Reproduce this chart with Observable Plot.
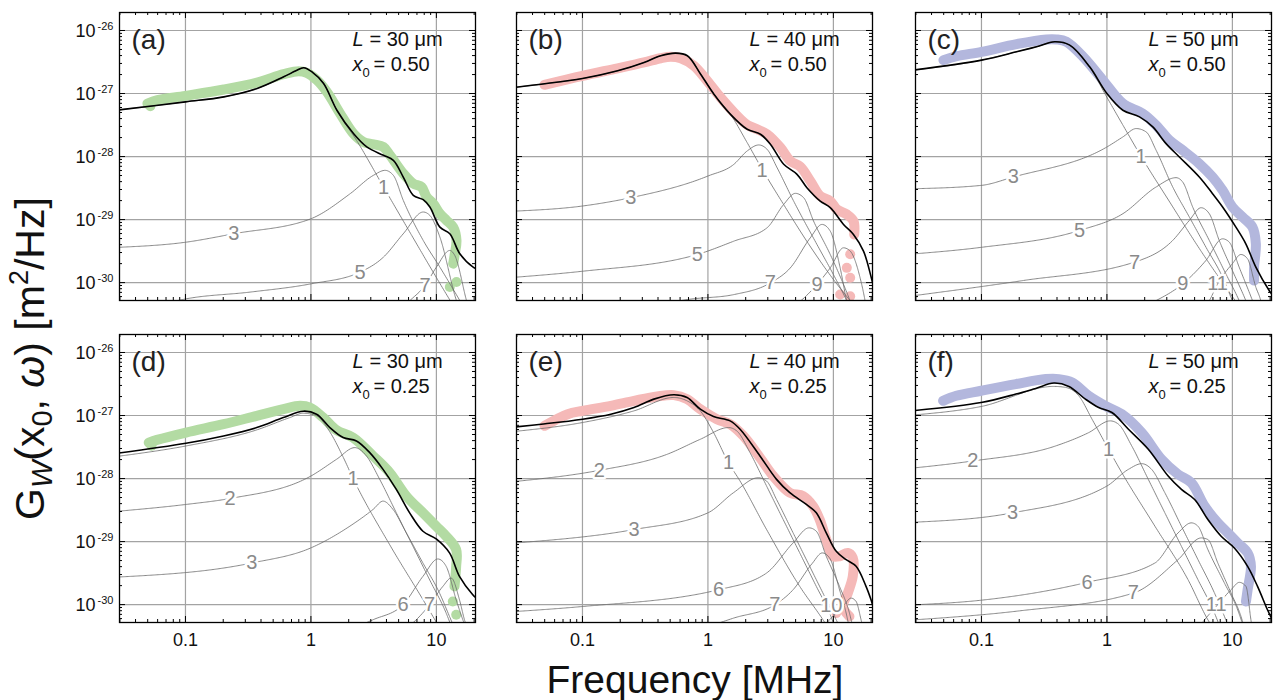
<!DOCTYPE html>
<html><head><meta charset="utf-8">
<script src="https://cdn.jsdelivr.net/npm/d3@7"></script>
<script src="https://cdn.jsdelivr.net/npm/@observablehq/plot@0.6"></script>
<style>
body{margin:0;background:#fff;font-family:"Liberation Sans",Arial,sans-serif;}
#wrap{position:relative;width:1273px;height:700px;overflow:hidden;background:#fff;}
#wrap svg{position:absolute;}
</style></head><body><div id="wrap"></div>
<script>
// ---- Axis ticks and tick labels ----
const xTicks = [0.1, 1, 10];
const xTickLabels = ["0.1", "1", "10"];
const yTicks = [1e-26, 1e-27, 1e-28, 1e-29, 1e-30];
const yTickExp = ["-26", "-27", "-28", "-29", "-30"];
const xDomain = [0.0298, 20.5];
const yDomain = [5.2e-31, 1.93e-26];

// ---- Series values: [log10(frequency / MHz), log10(G_W / (m^2/Hz))] ----
// Panel (a) L = 30 um, x0 = 0.50
const a_fit = [[-1.53,-27.26],[-1.0,-27.132],[-0.694,-27.053],[-0.429,-26.92],[-0.217,-26.735],[-0.12,-26.64],[-0.058,-26.59],[0.008,-26.656],[0.101,-26.841],[0.207,-27.265],[0.339,-27.636],[0.445,-27.848],[0.578,-27.98],[0.657,-28.06],[0.736,-28.325],[0.816,-28.616],[0.895,-28.685],[0.948,-28.80],[1.028,-29.12],[1.107,-29.225],[1.187,-29.543],[1.293,-29.755],[1.32,-29.78]];
const a_data = [[-1.303,-27.159],[-1.224,-27.106],[-1.0,-27.037],[-0.694,-26.936],[-0.429,-26.825],[-0.217,-26.693],[-0.098,-26.645],[-0.032,-26.672],[0.048,-26.788],[0.127,-26.974],[0.233,-27.318],[0.339,-27.636],[0.4185,-27.768],[0.498,-27.805],[0.5775,-27.848],[0.6305,-27.98],[0.736,-28.27],[0.816,-28.43],[0.882,-28.483],[0.922,-28.642],[0.975,-28.748],[1.028,-28.907],[1.081,-29.013],[1.134,-29.12],[1.16,-29.33],[1.147,-29.543],[1.134,-29.70]];
const a_dots = [[1.16,-29.99],[1.107,-30.07],[-1.28,-27.2]];
const a_mode1 = [[-1.53,-27.26],[-1.0,-27.132],[-0.694,-27.053],[-0.429,-26.92],[-0.217,-26.735],[-0.12,-26.64],[-0.058,-26.59],[0.008,-26.656],[0.101,-26.841],[0.207,-27.265],[0.366,-27.75],[0.578,-28.48],[0.80,-29.24],[1.0,-29.92],[1.16,-30.45]];
const a_mode3 = [[-1.53,-29.44],[-1.0,-29.36],[-0.615,-29.225],[0,-28.987],[0.313,-28.589],[0.498,-28.298],[0.591,-28.219],[0.657,-28.298],[0.736,-28.695],[0.895,-29.331],[1.028,-29.755],[1.187,-30.285],[1.25,-30.5]];
const a_mode5 = [[-1.2,-30.35],[-1.0,-30.26],[-0.482,-30.15],[0,-30.02],[0.392,-29.834],[0.578,-29.596],[0.736,-29.225],[0.895,-28.88],[0.948,-28.934],[1.028,-29.278],[1.16,-30.285],[1.2,-30.5]];
const a_mode7 = [[0.70,-30.45],[0.789,-30.285],[0.909,-30.046],[1.0,-29.755],[1.107,-29.49],[1.147,-29.57],[1.24,-30.285],[1.27,-30.5]];
const a_labels = [["1",0.578,-28.5],["3",-0.615,-29.225],["5",0.392,-29.834],["7",0.909,-30.046]];

// Panel (b) L = 40 um, x0 = 0.50
const b_fit = [[-1.53,-26.90],[-1.33,-26.852],[-1.0,-26.762],[-0.72,-26.64],[-0.509,-26.507],[-0.376,-26.40],[-0.257,-26.359],[-0.164,-26.40],[-0.058,-26.693],[0.048,-27.01],[0.18,-27.33],[0.313,-27.567],[0.4185,-27.646],[0.498,-27.805],[0.604,-28.123],[0.71,-28.282],[0.789,-28.494],[0.895,-28.706],[0.975,-28.81],[1.081,-29.077],[1.16,-29.236],[1.24,-29.50],[1.306,-29.95],[1.332,-30.14]];
const b_data = [[-1.303,-26.862],[-1.0,-26.719],[-0.72,-26.60],[-0.509,-26.507],[-0.376,-26.44],[-0.297,-26.417],[-0.217,-26.44],[-0.111,-26.56],[-0.005,-26.80],[0.101,-27.064],[0.207,-27.30],[0.313,-27.498],[0.392,-27.567],[0.4715,-27.646],[0.5775,-27.858],[0.657,-28.07],[0.736,-28.16],[0.816,-28.388],[0.895,-28.627],[0.975,-28.706],[1.028,-28.838],[1.107,-28.918],[1.16,-29.024],[1.166,-29.236]];
const b_dots = [[1.134,-29.55],[1.107,-29.766],[1.134,-29.924],[1.054,-30.19],[1.134,-30.216]];
const b_mode1 = [[-1.53,-26.90],[-1.33,-26.852],[-1.0,-26.762],[-0.72,-26.64],[-0.509,-26.507],[-0.376,-26.40],[-0.257,-26.359],[-0.164,-26.40],[-0.058,-26.693],[0.048,-27.01],[0.18,-27.33],[0.313,-27.78],[0.432,-28.2],[0.6,-28.75],[0.8,-29.38],[1.0,-29.95],[1.16,-30.35]];
const b_mode3 = [[-1.53,-28.865],[-1.0,-28.785],[-0.615,-28.653],[0,-28.309],[0.207,-28.123],[0.313,-27.911],[0.405,-27.816],[0.4715,-27.885],[0.551,-28.176],[0.683,-28.706],[0.869,-29.395],[1.0,-29.872],[1.107,-30.295],[1.15,-30.5]];
const b_mode5 = [[-1.53,-29.914],[-1.0,-29.82],[-0.085,-29.554],[0.207,-29.342],[0.4715,-29.13],[0.604,-28.759],[0.697,-28.584],[0.763,-28.653],[0.842,-29.024],[0.975,-29.554],[1.081,-30.03],[1.134,-30.295],[1.17,-30.5]];
const b_mode7 = [[-0.5,-30.4],[-0.164,-30.269],[0.207,-30.19],[0.498,-30.004],[0.657,-29.766],[0.816,-29.289],[0.909,-29.077],[0.975,-29.183],[1.054,-29.766],[1.107,-30.295],[1.14,-30.5]];
const b_mode9 = [[0.62,-30.45],[0.736,-30.295],[0.869,-30.03],[0.975,-29.766],[1.081,-29.448],[1.134,-29.50],[1.213,-29.924],[1.253,-30.295],[1.27,-30.5]];
const b_labels = [["1",0.432,-28.22],["3",-0.615,-28.653],["5",-0.085,-29.554],["7",0.498,-30.004],["9",0.869,-30.03]];

// Panel (c) L = 50 um, x0 = 0.50
const c_fit = [[-1.53,-26.625],[-0.999,-26.47],[-0.7205,-26.338],[-0.5616,-26.258],[-0.416,-26.179],[-0.2967,-26.232],[-0.1377,-26.576],[0,-27.0],[0.127,-27.265],[0.2596,-27.371],[0.3656,-27.53],[0.4715,-27.795],[0.5775,-28.007],[0.7364,-28.325],[0.842,-28.589],[0.922,-28.80],[1.028,-29.12],[1.107,-29.384],[1.187,-29.755],[1.293,-30.126],[1.32,-30.2]];
const c_data = [[-1.303,-26.47],[-1.197,-26.407],[-0.999,-26.338],[-0.7205,-26.216],[-0.482,-26.142],[-0.4026,-26.142],[-0.323,-26.179],[-0.19,-26.417],[-0.032,-26.788],[0.127,-27.159],[0.286,-27.318],[0.392,-27.503],[0.498,-27.742],[0.604,-27.90],[0.7364,-28.113],[0.842,-28.325],[0.922,-28.536],[1.0,-28.80],[1.081,-28.96],[1.16,-29.12],[1.187,-29.384],[1.173,-29.755],[1.173,-29.967]];
const c_dots = [];
const c_mode1 = [[-1.53,-26.625],[-0.999,-26.47],[-0.7205,-26.338],[-0.5616,-26.258],[-0.416,-26.179],[-0.2967,-26.232],[-0.1377,-26.58],[0,-27.06],[0.127,-27.5],[0.273,-28.0],[0.5,-28.72],[0.75,-29.5],[1.028,-30.3],[1.1,-30.5]];
const c_mode3 = [[-1.53,-28.51],[-0.999,-28.457],[-0.747,-28.325],[0,-27.848],[0.127,-27.689],[0.2331,-27.556],[0.3126,-27.609],[0.392,-27.90],[0.5245,-28.483],[0.657,-28.96],[0.789,-29.437],[0.922,-29.914],[1.0,-30.285],[1.05,-30.5]];
const c_mode5 = [[-1.53,-29.543],[-0.999,-29.44],[-0.2172,-29.172],[0.127,-28.907],[0.392,-28.483],[0.551,-28.335],[0.604,-28.404],[0.6834,-28.80],[0.816,-29.331],[0.948,-29.861],[1.054,-30.285],[1.1,-30.5]];
const c_mode7 = [[-1.53,-30.205],[-0.6675,-29.967],[0.22,-29.675],[0.5245,-29.331],[0.657,-29.013],[0.75,-28.812],[0.816,-28.907],[0.895,-29.331],[1.0,-29.808],[1.107,-30.285],[1.15,-30.5]];
const c_mode9 = [[0.2,-30.45],[0.392,-30.285],[0.604,-30.02],[0.789,-29.649],[0.922,-29.305],[0.975,-29.358],[1.054,-29.755],[1.16,-30.285],[1.2,-30.5]];
const c_mode11 = [[0.7,-30.5],[0.816,-30.285],[0.882,-30.02],[1.0,-29.70],[1.0675,-29.554],[1.12,-29.62],[1.187,-30.073],[1.226,-30.285],[1.25,-30.5]];
const c_labels = [["1",0.273,-28.0],["3",-0.747,-28.325],["5",-0.2172,-29.172],["7",0.22,-29.675],["9",0.604,-30.02],["11",0.882,-30.02]];

// Panel (d) L = 30 um, x0 = 0.25
const d_fit = [[-1.53,-27.595],[-0.996,-27.44],[-0.6967,-27.324],[-0.4318,-27.191],[-0.22,-27.032],[-0.061,-26.931],[0.045,-26.979],[0.151,-27.191],[0.257,-27.35],[0.3629,-27.403],[0.4689,-27.589],[0.5748,-27.854],[0.6808,-28.172],[0.7868,-28.544],[0.8927,-28.836],[0.9987,-28.958],[1.1046,-29.18],[1.184,-29.552],[1.29,-29.844],[1.32,-29.9]];
const d_data = [[-1.2927,-27.43],[-1.2265,-27.387],[-0.996,-27.27],[-0.6967,-27.138],[-0.4318,-27.005],[-0.22,-26.90],[-0.0874,-26.846],[-0.008,-26.873],[0.098,-27.032],[0.204,-27.233],[0.3364,-27.35],[0.4954,-27.642],[0.6278,-27.907],[0.7603,-28.279],[0.8927,-28.544],[0.9987,-28.756],[1.078,-28.915],[1.1576,-29.127],[1.1576,-29.393],[1.1444,-29.711]];
const d_dots = [[1.131,-29.95],[1.158,-30.162],[-1.27,-27.48]];
const d_mode1 = [[-1.53,-27.645],[-0.996,-27.483],[-0.4318,-27.228],[-0.1669,-27.032],[-0.061,-26.963],[0.045,-27.005],[0.151,-27.26],[0.257,-27.66],[0.3364,-28.0],[0.6278,-29.05],[0.8927,-29.92],[1.05,-30.45]];
const d_mode2 = [[-1.53,-28.517],[-0.996,-28.411],[-0.6437,-28.316],[0,-27.96],[0.204,-27.695],[0.3497,-27.509],[0.4424,-27.642],[0.5483,-28.013],[0.6808,-28.544],[0.8132,-29.074],[0.9457,-29.605],[1.078,-30.135],[1.13,-30.4]];
const d_mode3 = [[-1.53,-29.562],[-0.4715,-29.34],[0,-29.10],[0.31,-28.756],[0.4954,-28.49],[0.5748,-28.358],[0.6543,-28.49],[0.7603,-28.862],[0.8927,-29.34],[1.025,-29.817],[1.1046,-30.188],[1.15,-30.4]];
const d_mode6 = [[0.3,-30.4],[0.4954,-30.24],[0.7338,-30.003],[0.8927,-29.552],[1.012,-29.276],[1.078,-29.393],[1.1576,-29.923],[1.2106,-30.24],[1.24,-30.4]];
const d_mode7 = [[0.7,-30.45],[0.8397,-30.24],[0.9457,-30.003],[1.0517,-29.711],[1.1179,-29.578],[1.184,-29.923],[1.2238,-30.24],[1.25,-30.4]];
const d_labels = [["1",0.3364,-28.0],["2",-0.6437,-28.316],["3",-0.4715,-29.34],["6",0.7338,-30.003],["7",0.9457,-30.003]];

// Panel (e) L = 40 um, x0 = 0.25
const e_fit = [[-1.53,-27.18],[-1.329,-27.138],[-0.9987,-27.058],[-0.7741,-26.979],[-0.5892,-26.873],[-0.4306,-26.74],[-0.2721,-26.671],[-0.1664,-26.714],[-0.0608,-26.90],[0.0449,-27.016],[0.177,-27.085],[0.2563,-27.218],[0.4148,-27.642],[0.5469,-28.013],[0.6526,-28.225],[0.7847,-28.411],[0.8639,-28.544],[0.9432,-28.862],[1.0225,-29.154],[1.1017,-29.287],[1.181,-29.393],[1.2602,-29.711],[1.2999,-29.923],[1.32,-30.05]];
const e_data = [[-1.3025,-27.164],[-1.1176,-26.979],[-0.9987,-26.926],[-0.7741,-26.846],[-0.5892,-26.767],[-0.4042,-26.697],[-0.2721,-26.676],[-0.1664,-26.74],[-0.0608,-26.90],[0.0713,-27.058],[0.177,-27.138],[0.2827,-27.324],[0.4148,-27.668],[0.5205,-27.96],[0.6526,-28.225],[0.7583,-28.279],[0.8375,-28.438],[0.8904,-28.65],[0.9432,-28.968],[0.996,-29.233],[1.0489,-29.233],[1.1149,-29.18],[1.1546,-29.26],[1.1546,-29.552],[1.1149,-29.817],[1.0753,-30.03],[1.1281,-30.188]];
const e_dots = [[1.0225,-30.135]];
const e_mode1 = [[-1.53,-27.25],[-0.9987,-27.111],[-0.5892,-26.926],[-0.2721,-26.714],[-0.1664,-26.767],[-0.0608,-26.926],[0.0449,-27.27],[0.1638,-27.748],[0.2563,-28.04],[0.4676,-28.809],[0.7318,-29.711],[0.9168,-30.24],[1.0,-30.5]];
const e_mode2 = [[-1.53,-28.045],[-0.8666,-27.87],[-0.325,-27.615],[-0.0608,-27.377],[0.1638,-27.191],[0.2299,-27.244],[0.3355,-27.589],[0.4676,-28.119],[0.5997,-28.65],[0.7318,-29.18],[0.8639,-29.711],[0.9696,-30.135],[1.02,-30.4]];
const e_mode3 = [[-1.53,-29.021],[-0.5892,-28.809],[0,-28.544],[0.2034,-28.225],[0.4016,-27.987],[0.4676,-28.04],[0.5469,-28.332],[0.679,-28.862],[0.8111,-29.393],[0.9432,-29.923],[1.0225,-30.24],[1.06,-30.4]];
const e_mode6 = [[-1.53,-30.109],[-0.9987,-30.03],[0.0845,-29.764],[0.4676,-29.499],[0.679,-29.021],[0.8058,-28.782],[0.8639,-28.836],[0.9432,-29.233],[1.0489,-29.711],[1.1281,-30.135],[1.16,-30.4]];
const e_mode7 = [[0.0,-30.35],[0.2034,-30.215],[0.5337,-30.003],[0.679,-29.764],[0.83,-29.35],[0.9115,-29.18],[0.9696,-29.26],[1.0489,-29.764],[1.1017,-30.135],[1.13,-30.4]];
const e_mode10 = [[0.88,-30.45],[0.9696,-30.24],[1.0753,-30.03],[1.1413,-29.897],[1.181,-29.95],[1.2206,-30.24],[1.24,-30.4]];
const e_labels = [["1",0.1638,-27.748],["2",-0.8666,-27.87],["3",-0.5892,-28.809],["6",0.0845,-29.764],["7",0.5337,-30.003],["10",0.983,-30.02]];

// Panel (f) L = 50 um, x0 = 0.25
const f_fit = [[-1.53,-26.92],[-1.0026,-26.793],[-0.7256,-26.66],[-0.5673,-26.57],[-0.4222,-26.485],[-0.3034,-26.538],[-0.1715,-26.74],[-0.066,-26.873],[0.0396,-26.952],[0.1715,-27.218],[0.3298,-27.536],[0.4881,-27.96],[0.5937,-28.172],[0.6992,-28.332],[0.8047,-28.65],[0.9103,-28.915],[1.0158,-29.101],[1.1214,-29.393],[1.2005,-29.711],[1.2797,-30.082],[1.32,-30.25]];
const f_data = [[-1.306,-26.767],[-1.2005,-26.687],[-1.0026,-26.607],[-0.7256,-26.501],[-0.4881,-26.422],[-0.3826,-26.422],[-0.277,-26.475],[-0.1451,-26.687],[-0.0132,-26.846],[0.1187,-26.979],[0.277,-27.271],[0.4354,-27.695],[0.5673,-27.934],[0.6728,-28.066],[0.7784,-28.438],[0.8839,-28.703],[0.9631,-28.862],[1.0422,-29.021],[1.1214,-29.18],[1.1478,-29.393],[1.1214,-29.764],[1.1082,-29.95]];
const f_dots = [];
const f_mode1 = [[-1.53,-26.99],[-1.0026,-26.857],[-0.4222,-26.538],[-0.3298,-26.554],[-0.2243,-26.687],[-0.1187,-27.058],[0.0132,-27.536],[0.1187,-27.907],[0.3826,-28.756],[0.6464,-29.605],[0.8047,-30.241],[0.87,-30.45]];
const f_mode2 = [[-1.53,-27.83],[-1.0686,-27.721],[-0.409,-27.483],[-0.1451,-27.271],[0.0264,-27.085],[0.0923,-27.138],[0.1979,-27.483],[0.3298,-28.013],[0.4617,-28.544],[0.5937,-29.074],[0.7256,-29.605],[0.8575,-30.135],[0.9,-30.35]];
const f_mode3 = [[-1.53,-28.692],[-0.752,-28.544],[0,-28.119],[0.1715,-27.854],[0.277,-27.764],[0.3562,-27.854],[0.4617,-28.225],[0.5937,-28.756],[0.7256,-29.286],[0.8575,-29.817],[0.9367,-30.188],[0.98,-30.4]];
const f_mode6 = [[-1.53,-30.003],[-1.0,-29.93],[-0.1583,-29.647],[0.3826,-29.34],[0.5673,-28.862],[0.6728,-28.703],[0.7256,-28.756],[0.8047,-29.127],[0.9367,-29.658],[1.0422,-30.082],[1.08,-30.3]];
const f_mode7 = [[-1.53,-30.241],[-0.7,-30.1],[0.2111,-29.817],[0.5673,-29.286],[0.752,-28.942],[0.8047,-28.968],[0.8839,-29.34],[0.9894,-29.817],[1.0686,-30.188],[1.1,-30.4]];
const f_mode11 = [[0.7,-30.45],[0.7784,-30.241],[0.8707,-30.03],[0.9894,-29.764],[1.0554,-29.647],[1.1082,-29.711],[1.1478,-30.241],[1.16,-30.4]];
const f_labels = [["1",0.0132,-27.536],["2",-1.0686,-27.721],["3",-0.752,-28.544],["6",-0.1583,-29.647],["7",0.2111,-29.817],["11",0.8707,-30.003]];

const GREEN = "#b3dba3", PINK = "#f5b9b8", BLUE = "#b3b7dd";
const panels = [
  {tag:"(a)", col:0, row:0, fit:a_fit, data:a_data, dots:a_dots, modes:[a_mode1,a_mode3,a_mode5,a_mode7], labels:a_labels, color:GREEN, L:"30", x0:"0.50"},
  {tag:"(b)", col:1, row:0, fit:b_fit, data:b_data, dots:b_dots, modes:[b_mode1,b_mode3,b_mode5,b_mode7,b_mode9], labels:b_labels, color:PINK, L:"40", x0:"0.50"},
  {tag:"(c)", col:2, row:0, fit:c_fit, data:c_data, dots:c_dots, modes:[c_mode1,c_mode3,c_mode5,c_mode7,c_mode9,c_mode11], labels:c_labels, color:BLUE, L:"50", x0:"0.50"},
  {tag:"(d)", col:0, row:1, fit:d_fit, data:d_data, dots:d_dots, modes:[d_mode1,d_mode2,d_mode3,d_mode6,d_mode7], labels:d_labels, color:GREEN, L:"30", x0:"0.25"},
  {tag:"(e)", col:1, row:1, fit:e_fit, data:e_data, dots:e_dots, modes:[e_mode1,e_mode2,e_mode3,e_mode6,e_mode7,e_mode10], labels:e_labels, color:PINK, L:"40", x0:"0.25"},
  {tag:"(f)", col:2, row:1, fit:f_fit, data:f_data, dots:f_dots, modes:[f_mode1,f_mode2,f_mode3,f_mode6,f_mode7,f_mode11], labels:f_labels, color:BLUE, L:"50", x0:"0.25"}
];

// ---- layout ----
const FW = 356, FH = 288;
const colLeft = [119, 516, 915];
const rowTop = [12, 334];
const FONT = "Liberation Sans, Arial, Helvetica, sans-serif";

const xMinor = [];
for (const e of [-2, -1, 0, 1]) for (let k = 2; k <= 9; k++) { const v = k * 10 ** e; if (v > xDomain[0] && v < xDomain[1]) xMinor.push(v); }
const yMinor = [];
for (let e = -31; e <= -27; e++) for (let k = 2; k <= 9; k++) { const v = k * 10 ** e; if (v > yDomain[0] && v < yDomain[1]) yMinor.push(v); }

const pt = ([lf, lg]) => ({f: 10 ** lf, g: 10 ** lg});
const wrap = document.getElementById("wrap");

function tickMarks() {
  const m = [];
  for (const [vals, len] of [[xTicks, 6], [xMinor, 3]]) {
    m.push(Plot.tickX(vals, {x: d => d, insetTop: FH - len, stroke: "black", strokeWidth: 1}));
    m.push(Plot.tickX(vals, {x: d => d, insetBottom: FH - len, stroke: "black", strokeWidth: 1}));
  }
  for (const [vals, len] of [[yTicks, 6], [yMinor, 3]]) {
    m.push(Plot.tickY(vals, {y: d => d, insetRight: FW - len, stroke: "black", strokeWidth: 1}));
    m.push(Plot.tickY(vals, {y: d => d, insetLeft: FW - len, stroke: "black", strokeWidth: 1}));
  }
  return m;
}

for (const p of panels) {
  const ml = p.col === 0 ? 65 : 2, mr = 2, mt = 2, mb = p.row === 1 ? 40 : 2;
  const marks = [
    Plot.ruleX(xTicks, {x: d => d, stroke: "#a3a3a3", strokeWidth: 1.2}),
    Plot.ruleY(yTicks, {y: d => d, stroke: "#a3a3a3", strokeWidth: 1.2}),
    Plot.line(p.data.map(pt), {x: "f", y: "g", stroke: p.color, strokeWidth: 10, strokeLinecap: "round", strokeLinejoin: "round", curve: "catmull-rom", clip: true}),
    Plot.dot(p.dots.map(pt), {x: "f", y: "g", r: 5, fill: p.color, clip: true}),
    ...p.modes.map(m => Plot.line(m.map(pt), {x: "f", y: "g", stroke: "#6a6a6a", strokeWidth: 0.8, strokeDasharray: "1.6,0.8", curve: "monotone-x", clip: true})),
    Plot.text(p.labels, {x: d => 10 ** d[1], y: d => 10 ** d[2], text: d => d[0], fill: "#8a8a8a", stroke: "white", strokeWidth: 5, paintOrder: "stroke", fontSize: 20, clip: true}),
    Plot.line(p.fit.map(pt), {x: "f", y: "g", stroke: "black", strokeWidth: 1.6, curve: "catmull-rom", clip: true}),
    ...tickMarks(),
    Plot.frame({stroke: "black", strokeWidth: 1.3}),
    Plot.text([p.tag], {frameAnchor: "top-left", text: d => d, dx: 12, dy: 28, fontSize: 28, textAnchor: "start", lineAnchor: "middle", fill: "#222"}),
    Plot.text(["L"], {frameAnchor: "top-left", text: d => d, dx: 233, dy: 27.3, fontSize: 20, fontStyle: "italic", textAnchor: "start", lineAnchor: "middle", fill: "#111"}),
    Plot.text([`= ${p.L} μm`], {frameAnchor: "top-left", text: d => d, dx: 250, dy: 27.3, fontSize: 20, textAnchor: "start", lineAnchor: "middle", fill: "#111"}),
    Plot.text(["x"], {frameAnchor: "top-left", text: d => d, dx: 233, dy: 51.6, fontSize: 20, fontStyle: "italic", textAnchor: "start", lineAnchor: "middle", fill: "#111"}),
    Plot.text(["0"], {frameAnchor: "top-left", text: d => d, dx: 243, dy: 60.3, fontSize: 13, textAnchor: "start", lineAnchor: "middle", fill: "#111"}),
    Plot.text([`= ${p.x0}`], {frameAnchor: "top-left", text: d => d, dx: 254, dy: 51.6, fontSize: 20, textAnchor: "start", lineAnchor: "middle", fill: "#111"})
  ];
  if (p.col === 0) {
    marks.push(Plot.text(yTicks, {y: d => d, frameAnchor: "left", text: () => "10", textAnchor: "end", dx: -24, dy: 1, fontSize: 18, lineAnchor: "middle", fill: "#111"}));
    marks.push(Plot.text(yTicks, {y: d => d, frameAnchor: "left", text: (d, i) => yTickExp[i], textAnchor: "end", dx: -6, dy: -4.5, fontSize: 11, lineAnchor: "middle", fill: "#111"}));
  }
  if (p.row === 1) {
    marks.push(Plot.text(xTicks, {x: d => d, frameAnchor: "bottom", text: (d, i) => xTickLabels[i], dy: 11, fontSize: 18, lineAnchor: "top", fill: "#111"}));
  }
  const svg = Plot.plot({
    width: ml + FW + mr, height: mt + FH + mb,
    marginLeft: ml, marginRight: mr, marginTop: mt, marginBottom: mb,
    x: {type: "log", domain: xDomain, axis: null},
    y: {type: "log", domain: yDomain, axis: null},
    style: {fontFamily: FONT, background: "transparent", overflow: "visible"},
    marks
  });
  svg.style.left = (colLeft[p.col] - ml) + "px";
  svg.style.top = (rowTop[p.row] - mt) + "px";
  wrap.appendChild(svg);
}

// ---- axis titles ----
const over = d3.select(wrap).append("svg").attr("width", 1273).attr("height", 700)
  .style("left", "0px").style("top", "0px").style("pointer-events", "none")
  .attr("font-family", FONT).attr("fill", "#111");
over.append("text").attr("x", 695).attr("y", 693).attr("text-anchor", "middle").attr("font-size", 39).text("Frequency [MHz]");
const yt = over.append("text").attr("transform", "translate(44,520) rotate(-90)").attr("text-anchor", "start").attr("font-size", 41);
yt.append("tspan").text("G");
yt.append("tspan").attr("font-style", "italic").attr("font-size", 29).attr("dy", 8).text("W");
yt.append("tspan").attr("dy", -8).text("(x");
yt.append("tspan").attr("font-size", 29).attr("dy", 8).text("0");
yt.append("tspan").attr("dy", -8).text(", ");
yt.append("tspan").attr("font-style", "italic").text("ω");
yt.append("tspan").text(") [m");
yt.append("tspan").attr("font-size", 27).attr("dy", -16).text("2");
yt.append("tspan").attr("dy", 16).text("/Hz]");
</script>
</body></html>
